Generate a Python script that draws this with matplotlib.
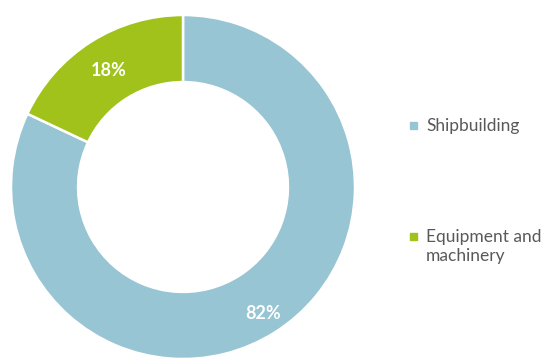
import matplotlib
matplotlib.use("Agg")
import matplotlib.pyplot as plt
from matplotlib.patches import Rectangle
import numpy as np

categories = ["Shipbuilding", "Equipment and\nmachinery"]
values = [82, 18]
colors = ["#98C5D3", "#A0C21A"]

W, H = 543, 360
fig = plt.figure(figsize=(W / 100, H / 100), dpi=100)
cx, cy, R = 183, 360 - 187, 172
ax = fig.add_axes([(cx - R) / W, (cy - R) / H, 2 * R / W, 2 * R / H])

wedges, texts, autotexts = ax.pie(
    values, colors=colors, startangle=90, counterclock=False, radius=1,
    wedgeprops=dict(width=0.39, edgecolor="white", linewidth=1.8),
    autopct="%d%%", pctdistance=0.805,
    textprops=dict(color="white", fontsize=13, fontweight="bold", family="Lato"),
)
ax.set_xlim(-1, 1)
ax.set_ylim(-1, 1)
ax.set_aspect("auto")
ax.axis("off")
# nudge the large-slice label further out, as in the reference
x, y = autotexts[0].get_position()
r = np.hypot(x, y)
autotexts[0].set_position((x / r * 0.87, y / r * 0.87))

legend_y = [125, 236]
for lab, col, ly in zip(categories, colors, legend_y):
    fig.patches.append(Rectangle((410 / W, (H - ly - 4) / H), 7 / W, 7 / H,
                                 transform=fig.transFigure, color=col))
    fig.text(426 / W, (H - ly + 7) / H, lab, ha="left", va="top",
             fontsize=12.5, color="#595959", family="Lato", linespacing=1.25)

fig.savefig("out.png", dpi=100)
